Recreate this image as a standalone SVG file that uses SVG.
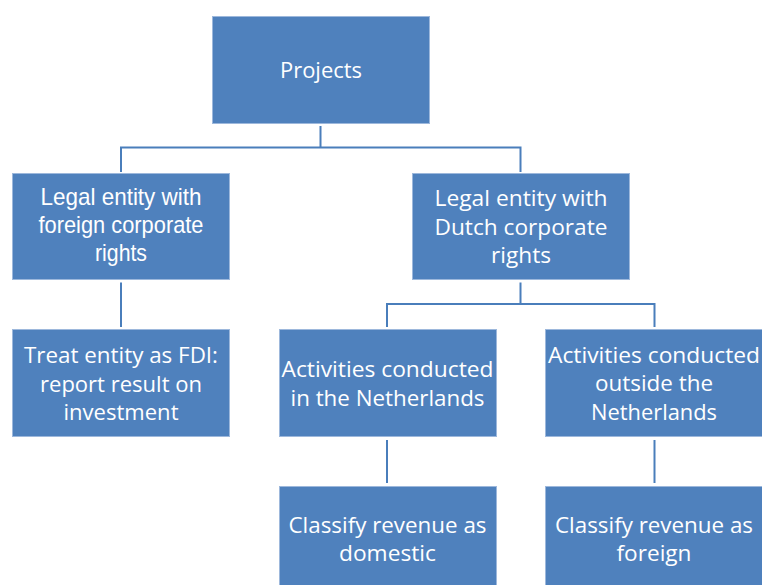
<svg xmlns="http://www.w3.org/2000/svg" width="762" height="585" viewBox="0 0 762 585">
<style>
.box{fill:#4F81BD;stroke:#9DB8DC;stroke-width:1}
.t{font-family:"Open Sans","Noto Sans",sans-serif;font-size:22px;fill:#FFFFFF;text-anchor:middle}
.n{font-family:"Liberation Sans",Arial,sans-serif;font-size:24px;fill:#FFFFFF;text-anchor:middle}
.c{fill:none;stroke:#4A7EBB;stroke-width:2}
</style>
<rect width="762" height="585" fill="#FFFFFF"/>
<g id="connectors">
<path class="c" d="M320.5 126 V147.5 M121 147.5 H520.5 M121 146.5 V172 M520.5 146.5 V172"/>
<path class="c" d="M121 282.5 V327"/>
<path class="c" d="M520.5 282.5 V304 M387 304 H654.5 M387 303 V327 M654.5 303 V327"/>
<path class="c" d="M387 440 V483"/>
<path class="c" d="M654.5 440 V483"/>
</g>
<g id="projects">
<rect class="box" x="212.5" y="16.5" width="217" height="107"/>
<text class="t" x="321" y="78" textLength="82" lengthAdjust="spacingAndGlyphs">Projects</text>
</g>
<g id="foreign">
<rect class="box" x="12.5" y="173.5" width="217" height="106"/>
<text class="n" x="121" y="205" textLength="161" lengthAdjust="spacingAndGlyphs">Legal entity with</text>
<text class="n" x="121" y="233" textLength="165" lengthAdjust="spacingAndGlyphs">foreign corporate</text>
<text class="n" x="121" y="261" textLength="52" lengthAdjust="spacingAndGlyphs">rights</text>
</g>
<g id="dutch">
<rect class="box" x="412.5" y="173.5" width="217" height="106"/>
<text class="t" x="521" y="205.5" textLength="173" lengthAdjust="spacingAndGlyphs">Legal entity with</text>
<text class="t" x="521" y="234.5" textLength="173" lengthAdjust="spacingAndGlyphs">Dutch corporate</text>
<text class="t" x="521" y="263" textLength="60" lengthAdjust="spacingAndGlyphs">rights</text>
</g>
<g id="treat">
<rect class="box" x="12.5" y="329.5" width="217" height="107"/>
<text class="t" x="121" y="362.5" textLength="194" lengthAdjust="spacingAndGlyphs">Treat entity as FDI:</text>
<text class="t" x="121" y="391.5" textLength="162" lengthAdjust="spacingAndGlyphs">report result on</text>
<text class="t" x="121" y="419.5" textLength="115" lengthAdjust="spacingAndGlyphs">investment</text>
</g>
<g id="in-nl">
<rect class="box" x="279.5" y="329.5" width="217" height="107"/>
<text class="t" x="387.5" y="377" textLength="212" lengthAdjust="spacingAndGlyphs">Activities conducted</text>
<text class="t" x="387.5" y="406" textLength="194" lengthAdjust="spacingAndGlyphs">in the Netherlands</text>
</g>
<g id="outside-nl">
<rect class="box" x="545.5" y="329.5" width="217" height="107"/>
<text class="t" x="654" y="362.5" textLength="212" lengthAdjust="spacingAndGlyphs">Activities conducted</text>
<text class="t" x="654" y="391" textLength="118" lengthAdjust="spacingAndGlyphs">outside the</text>
<text class="t" x="654" y="419.5" textLength="126" lengthAdjust="spacingAndGlyphs">Netherlands</text>
</g>
<g id="domestic">
<rect class="box" x="279.5" y="486.5" width="217" height="100"/>
<text class="t" x="387.5" y="532.5" textLength="198" lengthAdjust="spacingAndGlyphs">Classify revenue as</text>
<text class="t" x="387.5" y="561" textLength="97" lengthAdjust="spacingAndGlyphs">domestic</text>
</g>
<g id="foreign-rev">
<rect class="box" x="545.5" y="486.5" width="217" height="100"/>
<text class="t" x="654" y="532.5" textLength="198" lengthAdjust="spacingAndGlyphs">Classify revenue as</text>
<text class="t" x="654" y="561" textLength="75" lengthAdjust="spacingAndGlyphs">foreign</text>
</g>
</svg>
